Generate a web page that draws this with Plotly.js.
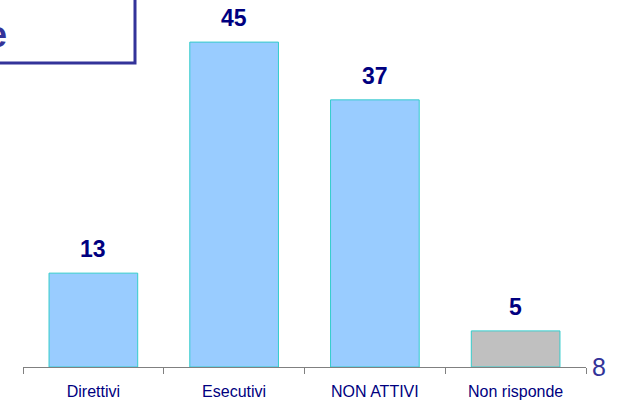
<!DOCTYPE html>
<html>
<head>
<meta charset="utf-8">
<script src="https://cdn.plot.ly/plotly-3.0.1.min.js"></script>
<style>html,body{margin:0;padding:0;background:#fff;}#chart{width:619px;height:402px;}</style>
</head>
<body>
<div id="chart"></div>
<script>
var categories = ['Direttivi', 'Esecutivi', 'NON ATTIVI', 'Non risponde'];
var values = [13, 45, 37, 5];
var barColors = ['#99CCFF', '#99CCFF', '#99CCFF', '#C0C0C0'];
var boxText = 'e';
var pageNumber = '8';

var trace = {
  type: 'bar',
  x: categories,
  y: values,
  width: 0.63,
  marker: {color: barColors, line: {color: '#33CCCC', width: 1}},
  hoverinfo: 'none'
};

var annotations = categories.map(function (c, i) {
  return {
    x: c, y: values[i], xref: 'x', yref: 'y',
    text: String(values[i]),
    showarrow: false, yanchor: 'bottom', yshift: 9,
    font: {family: 'Liberation Sans, Arial, sans-serif', size: 23, color: '#000080', weight: 'bold'}
  };
});
annotations.push({
  x: (9 - 23) / 563, xref: 'paper', y: 0.92, yref: 'paper', text: boxText, showarrow: false,
  xanchor: 'right', yanchor: 'middle',
  font: {family: 'Liberation Sans, Arial, sans-serif', size: 36, color: '#333399', weight: 'bold'}
});
annotations.push({
  x: 1.0, xref: 'paper', y: 0, yref: 'paper', text: pageNumber, showarrow: false,
  xanchor: 'left', yanchor: 'middle', xshift: 4,
  font: {family: 'Liberation Sans, Arial, sans-serif', size: 25, color: '#333399'}
});

var layout = {
  width: 619, height: 402,
  margin: {l: 23, r: 33, t: 6, b: 35},
  paper_bgcolor: '#ffffff', plot_bgcolor: '#ffffff',
  showlegend: false,
  font: {family: 'Liberation Sans, Arial, sans-serif', color: '#000080'},
  xaxis: {
    type: 'category', range: [-0.5, 3.5],
    showline: true, linecolor: '#808080', linewidth: 1,
    ticks: 'outside', tickson: 'boundaries', ticklen: 6, tickcolor: '#808080', tickwidth: 1,
    ticklabelstandoff: 10,
    tickfont: {size: 16, color: '#000080'},
    showgrid: false, zeroline: false, fixedrange: true
  },
  yaxis: {range: [0, 50], visible: false, showgrid: false, zeroline: false, fixedrange: true},
  shapes: [{
    type: 'rect', xref: 'paper', yref: 'paper',
    x0: -0.2, x1: (135 - 23) / 563, y0: (367 - 63) / 361, y1: 1.2,
    line: {color: '#333399', width: 3}, fillcolor: 'rgba(0,0,0,0)', layer: 'above'
  }],
  annotations: annotations
};

Plotly.newPlot('chart', [trace], layout, {staticPlot: true, displayModeBar: false});
</script>
</body>
</html>
